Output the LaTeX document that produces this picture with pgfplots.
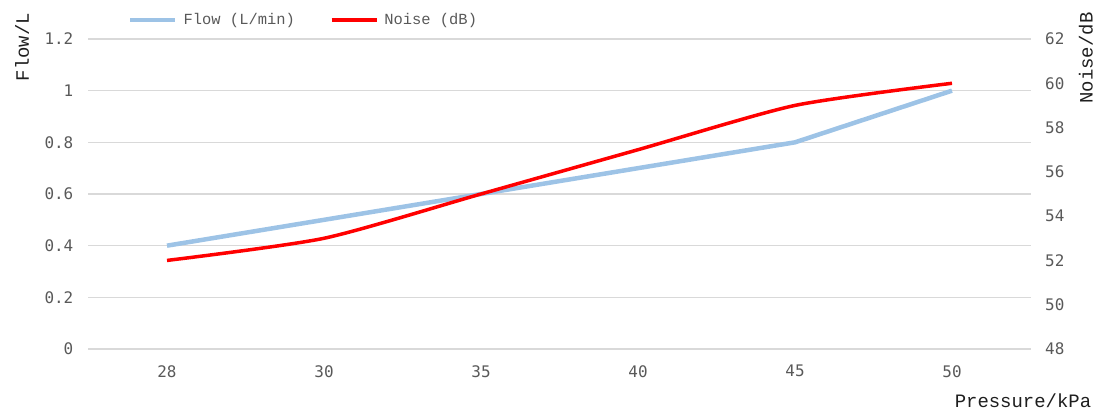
\documentclass[border=0pt]{standalone}
\usepackage{fontspec}
\setmainfont{Liberation Mono}
\newfontfamily\tickfont{DejaVu Sans Mono}
\usepackage{pgfplots}
\pgfplotsset{compat=1.18}
\definecolor{flowblue}{RGB}{157,195,230}
\definecolor{gridgray}{RGB}{217,217,217}
\definecolor{ticktext}{RGB}{89,89,89}
\definecolor{titletext}{RGB}{30,30,30}
\begin{document}
\begin{tikzpicture}
\path[use as bounding box] (-88.5bp,-63bp) rectangle (1007.5bp,349bp);
\begin{axis}[
  at={(0,0)}, anchor=south west, scale only axis,
  width=942bp, height=310bp,
  xmin=-0.5, xmax=5.5, ymin=0, ymax=1.2,
  xtick={0,1,2,3,4,5}, xticklabels={28,30,35,40,45,50},
  ytick={0,0.2,0.4,0.6,0.8,1,1.2},
  yticklabels={0,0.2,0.4,0.6,0.8,1,1.2},
  axis line style={draw=none}, major tick length=0pt,
  ymajorgrids, grid style={gridgray, line width=1.3bp},
  tick label style={font=\tickfont\fontsize{16}{16}\selectfont, text=ticktext, inner sep=0pt},
  yticklabel style={anchor=east, xshift=-15bp},
  xticklabel style={anchor=north, yshift=-16bp},
  clip=false,
  legend columns=2,
  legend image code/.code={\draw[#1] (0bp,0bp) -- (45bp,0bp);},
  legend style={draw=none, fill=none, at={(axis description cs:0.0419,1.0613)}, anchor=west,
    inner sep=0pt, font=\fontsize{15.5}{15.5}\selectfont, text=ticktext,
    nodes={inner sep=0pt},
    /tikz/every odd column/.append style={column sep=6bp},
    /tikz/every even column/.append style={column sep=35bp}},
]
\addplot[flowblue, line width=4.5bp] coordinates {(0,0.4) (1,0.5) (2,0.6) (3,0.7) (4,0.8) (5,1.0)};
\addlegendentry{Flow (L/min)}
\addlegendimage{red, line width=3.5bp}
\addlegendentry{Noise (dB)}
\node[rotate=90, font=\fontsize{19}{19}\selectfont, text=titletext] at (axis description cs:-0.0706,0.974) {Flow/L};
\node[rotate=90, font=\fontsize{19}{19}\selectfont, text=titletext] at (axis description cs:1.0589,0.9387) {Noise/dB};
\node[font=\fontsize{19}{19}\selectfont, text=titletext] at (axis description cs:0.992,-0.1677) {Pressure/kPa};
\end{axis}
\begin{axis}[
  at={(0,0)}, anchor=south west, scale only axis,
  width=942bp, height=310bp,
  xmin=-0.5, xmax=5.5, ymin=48, ymax=62,
  axis x line=none, axis y line*=right,
  ytick={48,50,52,54,56,58,60,62},
  yticklabels={48,50,52,54,56,58,60,62},
  axis line style={draw=none}, major tick length=0pt,
  tick label style={font=\tickfont\fontsize{16}{16}\selectfont, text=ticktext, inner sep=0pt},
  yticklabel style={anchor=west, xshift=14.5bp},
  clip=false,
]
\addplot[red, line width=3.5bp, smooth, tension=0.4] coordinates {(0,52) (1,53) (2,55) (3,57) (4,59) (5,60)};
\end{axis}
\end{tikzpicture}
\end{document}
